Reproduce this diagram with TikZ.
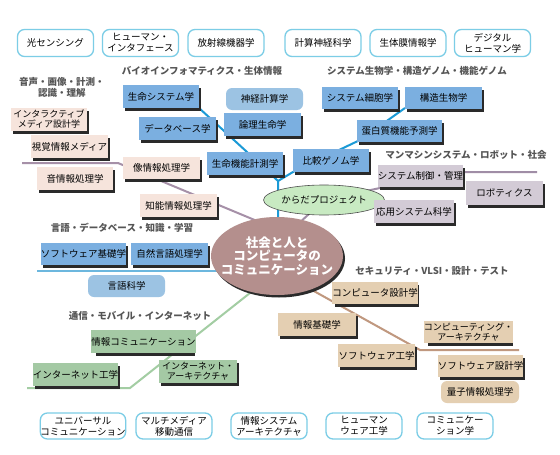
\documentclass[tikz,border=0pt]{standalone}
\usepackage{fontspec}
\setmainfont{Noto Sans CJK JP}
\usetikzlibrary{shapes.geometric,calc}
\definecolor{topline}{HTML}{7CCDE6}
\definecolor{headgray}{HTML}{555555}
\definecolor{bluefill}{HTML}{7BAFE0}
\definecolor{lightblue}{HTML}{9CC3E3}
\definecolor{blueline}{HTML}{1B9AD6}
\definecolor{langline}{HTML}{6CB7DE}
\definecolor{pinkfill}{HTML}{F6E4DC}
\definecolor{mauveline}{HTML}{A690A8}
\definecolor{purplefill}{HTML}{D3CBD6}
\definecolor{purpleline}{HTML}{A08DA6}
\definecolor{greenfill}{HTML}{A4C9A4}
\definecolor{greenline}{HTML}{A3CDA3}
\definecolor{tanfill}{HTML}{E4CFB2}
\definecolor{tanline}{HTML}{C0987F}
\definecolor{centerfill}{HTML}{B48F8D}
\definecolor{karafill}{HTML}{C8EAC2}
\definecolor{shadowcol}{HTML}{2A2A2A}
% node with a dark drop shadow to the lower right: options, name, position, text
\newcommand\shnode[4]{%
  \node[#1, fill=shadowcol] at ($(#3)+(2,2.5)$) {};
  \node[#1] (#2) at (#3) {#4};}
\begin{document}
\begin{tikzpicture}[x=1pt,y=-1pt,
  base/.style={inner sep=0pt, align=center, font=\fontsize{9.5}{11}\selectfont},
  topbox/.style={base, draw=topline, line width=1.3pt, fill=white, rounded corners=7pt, minimum width=76pt, minimum height=27pt},
  botbox/.style={topbox, minimum height=26pt},
  shbox/.style={base, minimum height=23pt},
  bluebox/.style={shbox, fill=bluefill},
  blueround/.style={base, fill=lightblue, rounded corners=6pt, minimum height=22pt},
  pinkbox/.style={shbox, fill=pinkfill},
  purplebox/.style={shbox, fill=purplefill},
  greenbox/.style={shbox, fill=greenfill},
  tanbox/.style={shbox, fill=tanfill},
  tanround/.style={base, fill=tanfill, rounded corners=6pt, minimum height=22pt},
  head/.style={inner sep=0pt, align=center, text=headgray, font=\fontsize{9.5}{11}\selectfont\bfseries},
  conn/.style={line width=2pt}
]
\fill[white] (0,0) rectangle (560,455);
\useasboundingbox (0,0) rectangle (560,455);

% top row
\node[topbox] (t1) at (55.5,43) {光センシング};
\node[topbox] (t2) at (140.5,43) {ヒューマン・\\インタフェース};
\node[topbox] (t3) at (226,43) {放射線機器学};
\node[topbox] (t4) at (323,43) {計算神経科学};
\node[topbox] (t5) at (408,43) {生体膜情報学};
\node[topbox] (t6) at (492.5,43) {デジタル\\ヒューマン学};

% headers
\node[head] (h1) at (202,71) {バイオインフォマティクス・生体情報};
\node[head] (h2) at (417,71) {システム生物学・構造ゲノム・機能ゲノム};
\node[head] (h3) at (62,87) {音声・画像・計測・\\認識・理解};
\node[head] (h4) at (466,155) {マンマシンシステム・ロボット・社会};
\node[head] (h5) at (122,228) {言語・データベース・知識・学習};
\node[head] (h6) at (140,316) {通信・モバイル・インターネット};
\node[head] (h7) at (432,271) {セキュリティ・VLSI・設計・テスト};

% connector anchors
\coordinate (jn) at (278,181);
\coordinate (bA) at (199,108);
\coordinate (bB) at (247,152);
\coordinate (bC) at (405,108);
\coordinate (bD) at (360,140);
\coordinate (bE) at (293,172);
\coordinate (bF) at (278,232);
\coordinate (lA) at (37,271);
\coordinate (lB) at (222,271);
\coordinate (mA) at (22,163);
\coordinate (mB) at (118,163);
\coordinate (mC) at (257,221);
\coordinate (pA) at (296,226);
\coordinate (pB) at (324,200);
\coordinate (pC) at (380,188);
\coordinate (pD) at (463,172);
\coordinate (pE) at (537,172);
\coordinate (gA) at (250,293);
\coordinate (gB) at (130,388);
\coordinate (gC) at (27,388);
\coordinate (nA) at (312,290);
\coordinate (nB) at (420,350);
\coordinate (nC) at (519,350);

% connectors
\draw[conn, blueline] (bA) -- (bB) -- (jn) -- (bF);
\draw[conn, blueline] (bC) -- (bD) -- (bE) -- (jn);
\draw[conn, langline] (lA) -- (lB);
\draw[conn, mauveline] (mA) -- (mB) -- (mC);
\draw[conn, purpleline] (pA) -- (pB) -- (pC) -- (pD) -- (pE);
\draw[conn, greenline] (gA) -- (gB) -- (gC);
\draw[conn, tanline] (nA) -- (nB) -- (nC);

% center
\shnode{ellipse, fill=centerfill, minimum width=132pt, minimum height=78pt, inner sep=0pt}{c}{277,256}{}
\node[align=center, inner sep=0pt, text=white, font=\fontsize{12.5}{13.5}\selectfont\bfseries] (ct) at (c.center)
  {社会と人と\\コンピュータの\\コミュニケーション};
\node[ellipse, draw=black!70, line width=0.6pt, fill=karafill, minimum width=82pt, minimum height=30pt, inner sep=0pt,
  font=\fontsize{9.5}{11}\selectfont] (kara) at (324,200) {からだプロジェクト};

% blue
\shnode{bluebox, minimum width=76pt}{s1}{161,96.5}{生命システム学}
\node[blueround, minimum width=77pt] (s2) at (264.5,99) {神経計算学};
\shnode{bluebox, minimum width=77pt}{s3}{177.5,128.5}{データベース学}
\shnode{bluebox, minimum width=77pt}{s4}{262.5,124.5}{論理生命学}
\shnode{bluebox, minimum width=76pt}{s5}{245,163.5}{生命機能計測学}
\shnode{bluebox, minimum width=76pt}{s6}{331,160.5}{比較ゲノム学}
\shnode{bluebox, minimum width=76pt, minimum height=22pt}{s7}{360,98}{システム細胞学}
\shnode{bluebox, minimum width=77pt, minimum height=22pt}{s8}{443.5,98}{構造生物学}
\shnode{bluebox, minimum width=85pt, minimum height=22pt}{s9}{399.5,131}{蛋白質機能予測学}

% purple
\shnode{purplebox, minimum width=85pt, minimum height=22pt}{r1}{420.5,176}{システム制御・管理}
\shnode{purplebox, minimum width=77pt, minimum height=24pt}{r2}{504.5,193}{ロボティクス}
\shnode{purplebox, minimum width=80pt}{r3}{414,211.5}{応用システム科学}

% pink
\shnode{pinkbox, minimum width=76pt, font=\fontsize{9}{10}\selectfont}{p1}{49,119.5}{インタラクティブ\\メディア設計学}
\shnode{pinkbox, minimum width=77pt}{p2}{69.5,146.5}{視覚情報メディア}
\shnode{pinkbox, minimum width=77pt, minimum height=22pt}{p3}{161.5,168}{像情報処理学}
\shnode{pinkbox, minimum width=76pt}{p4}{75,178.5}{音情報処理学}
\shnode{pinkbox, minimum width=77pt}{p5}{178.5,205.5}{知能情報処理学}

% language
\shnode{bluebox, minimum width=85pt, minimum height=22pt}{l1}{83.5,254}{ソフトウェア基礎学}
\shnode{bluebox, minimum width=77pt, minimum height=22pt}{l2}{169.5,254}{自然言語処理学}
\node[blueround, minimum width=77pt] (l3) at (126.5,286) {言語科学};

% green
\shnode{greenbox, minimum width=99pt}{g1}{143.5,341.5}{情報コミュニケーション}
\shnode{greenbox, minimum width=85pt}{g2}{75.5,374.5}{インターネット工学}
\shnode{greenbox, minimum width=78pt, font=\fontsize{9}{10}\selectfont}{g3}{198,371.5}{インターネット・\\アーキテクチャ}

% tan
\shnode{tanbox, minimum width=84pt, minimum height=22pt}{n1}{375,293}{コンピュータ設計学}
\shnode{tanbox, minimum width=78pt}{n2}{317,324.5}{情報基礎学}
\shnode{tanbox, minimum width=85pt, minimum height=22pt, font=\fontsize{9}{10}\selectfont}{n3}{468.5,332}{コンピューティング・\\アーキテクチャ}
\shnode{tanbox, minimum width=77pt}{n4}{376.5,355.5}{ソフトウェア工学}
\shnode{tanbox, minimum width=85pt, minimum height=22pt}{n5}{480.5,366}{ソフトウェア設計学}
\node[tanround, minimum width=78pt] (n6) at (480,392) {量子情報処理学};

% bottom row
\node[botbox] (b1) at (83,426) {ユニバーサル\\コミュニケーション};
\node[botbox] (b2) at (174,426) {マルチメディア\\移動通信};
\node[botbox] (b3) at (269,426) {情報システム\\アーキテクチャ};
\node[botbox] (b4) at (364,426) {ヒューマン\\ウェア工学};
\node[botbox] (b5) at (455,426) {コミュニケー\\ション学};
\end{tikzpicture}
\end{document}
